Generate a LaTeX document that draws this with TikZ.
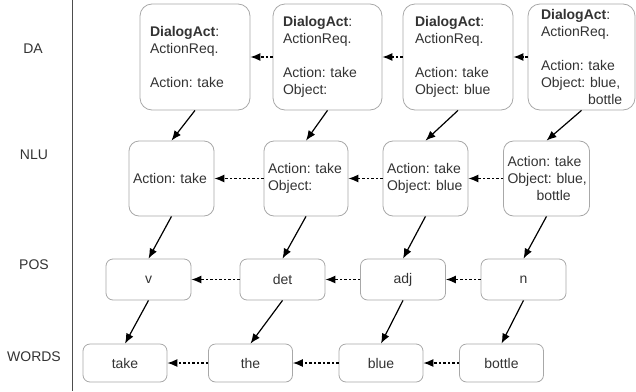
\documentclass[tikz,border=0pt]{standalone}
\usepackage{fontspec}
\setmainfont{Liberation Sans}
\usetikzlibrary{arrows.meta}
\definecolor{txt}{HTML}{333333}
\definecolor{boxgray}{HTML}{A8A8A8}
\definecolor{axis}{HTML}{4D4D4D}
\frenchspacing
\begin{document}
\begin{tikzpicture}[x=1pt,y=-1pt,
  fnt/.style={font=\fontsize{14}{17}\selectfont, text=txt},
  basebox/.style={fnt, draw=boxgray, line width=0.8pt, inner ysep=0pt},
  dabox/.style={basebox, rounded corners=12pt, minimum height=106pt, align=left},
  nlubox/.style={basebox, rounded corners=10pt, minimum height=75pt, align=left, inner xsep=4pt},
  posbox/.style={basebox, rounded corners=7pt, minimum height=41pt, minimum width=85pt, inner xsep=0pt},
  wbox/.style={basebox, rounded corners=7pt, minimum height=38pt, minimum width=84pt, inner xsep=0pt},
  lvl/.style={fnt},
  down/.style={-{Latex[length=10pt,width=8pt]}, line width=1.2pt, black},
  back/.style={-{Latex[length=10pt,width=8pt]}, line width=1.2pt, black, dash pattern=on 2.5pt off 2pt},
]
\useasboundingbox (0,0) rectangle (636,391);
\draw[axis, line width=1pt] (72,0) -- (72,391);

\node[lvl] (lda) at (33,49) {DA};
\node[lvl] (lnlu) at (34,155) {NLU};
\node[lvl] (lpos) at (34,265) {POS};
\node[lvl] (lwords) at (34,357) {WORDS};

% DA row
\node[dabox, inner xsep=10pt, text width=90pt] (da1) at (195,57)
  {\textbf{DialogAct}:\\ActionReq.\\[17pt]Action:~take};
\node[dabox, inner xsep=10pt, text width=89pt] (da2) at (327.5,57)
  {\textbf{DialogAct}:\\ActionReq.\\[17pt]Action:~take\\Object:};
\node[dabox, inner xsep=12pt, text width=86pt] (da3) at (458,57)
  {\textbf{DialogAct}:\\ActionReq.\\[17pt]Action:~take\\Object:~blue};
\node[dabox, inner xsep=13pt, text width=81pt] (da4) at (581.5,57)
  {\textbf{DialogAct}:\\ActionReq.\\[17pt]Action:~take\\Object:~blue,\\\hspace*{47pt}\mbox{bottle}};

% NLU row
\node[nlubox, text width=77pt] (nlu1) at (171.5,178.5) {Action:~take};
\node[nlubox, text width=76pt] (nlu2) at (306,178.5) {Action:~take\\Object:};
\node[nlubox, text width=77pt] (nlu3) at (425.5,178.5) {Action:~take\\Object:~blue};
\node[nlubox, text width=78pt] (nlu4) at (546.5,178.5) {Action:~take\\Object:~blue,\\\hspace*{29pt}\mbox{bottle}};

% POS row
\node[posbox] (pos1) at (148.5,279.5) {v};
\node[posbox] (pos2) at (282.5,279.5) {det};
\node[posbox] (pos3) at (403,279.5) {adj};
\node[posbox] (pos4) at (523.5,279.5) {n};

% WORDS row
\node[wbox] (w1) at (125,363) {take};
\node[wbox] (w2) at (250.5,363) {the};
\node[wbox] (w3) at (381,363) {blue};
\node[wbox] (w4) at (501.5,363) {bottle};

% vertical / diagonal arrows
\foreach \a/\b in {da1/nlu1,da2/nlu2,da3/nlu3,da4/nlu4,
                   nlu1/pos1,nlu2/pos2,nlu3/pos3,nlu4/pos4,
                   pos1/w1,pos2/w2,pos3/w3,pos4/w4}
  \draw[down] (\a.south) -- (\b.north);

% backward dashed arrows
\foreach \r in {da,nlu,pos,w}{
  \draw[back] (\r2.west) -- (\r1.east);
  \draw[back] (\r3.west) -- (\r2.east);
  \draw[back] (\r4.west) -- (\r3.east);
}
\end{tikzpicture}
\end{document}
